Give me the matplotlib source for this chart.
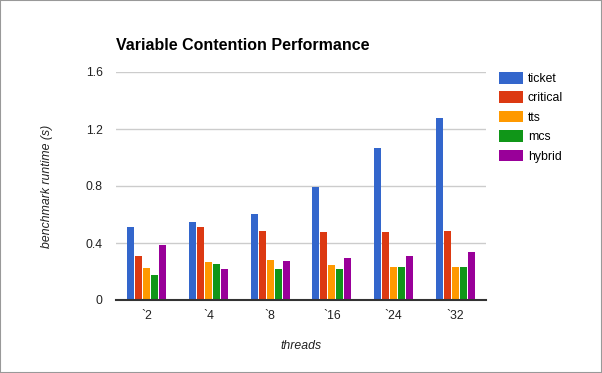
import matplotlib
matplotlib.use("Agg")
import matplotlib.pyplot as plt
import numpy as np

plt.rcParams['font.family'] = ['Liberation Sans', 'DejaVu Sans']

threads = ['`2', '`4', '`8', '`16', '`24', '`32']
series = ['ticket', 'critical', 'tts', 'mcs', 'hybrid']
ticket = [0.51, 0.544, 0.607, 0.79, 1.07, 1.28]
critical = [0.307, 0.51, 0.481, 0.474, 0.477, 0.483]
tts = [0.223, 0.265, 0.279, 0.244, 0.233, 0.233]
mcs = [0.175, 0.251, 0.216, 0.216, 0.231, 0.233]
hybrid = [0.384, 0.216, 0.272, 0.293, 0.31, 0.335]
colors = ['#3366cc', '#dc3912', '#ff9900', '#109618', '#990099']

fig = plt.figure(figsize=(6.02, 3.73), dpi=100)
ax = fig.add_axes([116/602, 1-300/373, 370/602, 228/373])

x = np.arange(len(threads))
w = 0.113
pitch = 0.13
for i, (name, vals) in enumerate(zip(series, [ticket, critical, tts, mcs, hybrid])):
    ax.bar(x + (i - 2) * pitch, vals, width=w, color=colors[i], label=name, zorder=3)

ax.set_xlim(-0.5, len(threads) - 0.5)
ax.set_ylim(0, 1.6)
ax.set_yticks([0, 0.4, 0.8, 1.2, 1.6])
ax.set_yticklabels(['0', '0.4', '0.8', '1.2', '1.6'])
ax.set_xticks(x)
ax.set_xticklabels(threads)
ax.tick_params(length=0, labelsize=8.8, colors='#222222')
ax.tick_params(axis='y', pad=9.5)
ax.tick_params(axis='x', pad=7)
ax.grid(axis='y', color='#cccccc', linewidth=1, zorder=0)
for s in ['top', 'right', 'left']:
    ax.spines[s].set_visible(False)
ax.spines['bottom'].set_color('#333333')
ax.spines['bottom'].set_linewidth(1.5)
ax.spines['bottom'].set_zorder(4)

ax.set_xlabel('threads', style='italic', fontsize=8.8, color='#222222')
ax.xaxis.set_label_coords(0.5, -40/228)
ax.set_ylabel('benchmark runtime (s)', style='italic', fontsize=8.8, color='#222222')
ax.yaxis.set_label_coords(-63/370, 0.5)
fig.text(116/602, 1-45/373, 'Variable Contention Performance', fontsize=11.5,
         fontweight='bold', ha='left', va='center')

fig.legend(loc='upper left', bbox_to_anchor=(488/602, 1-61/373), frameon=False,
           fontsize=8.8, handlelength=1.95, handleheight=1.1, labelspacing=0.52,
           handletextpad=0.4)

fig.patches.append(plt.Rectangle((0, 0), 1, 1, transform=fig.transFigure,
                                 fill=False, edgecolor='#999999', linewidth=1.5))

fig.savefig('out.png', dpi=100)
